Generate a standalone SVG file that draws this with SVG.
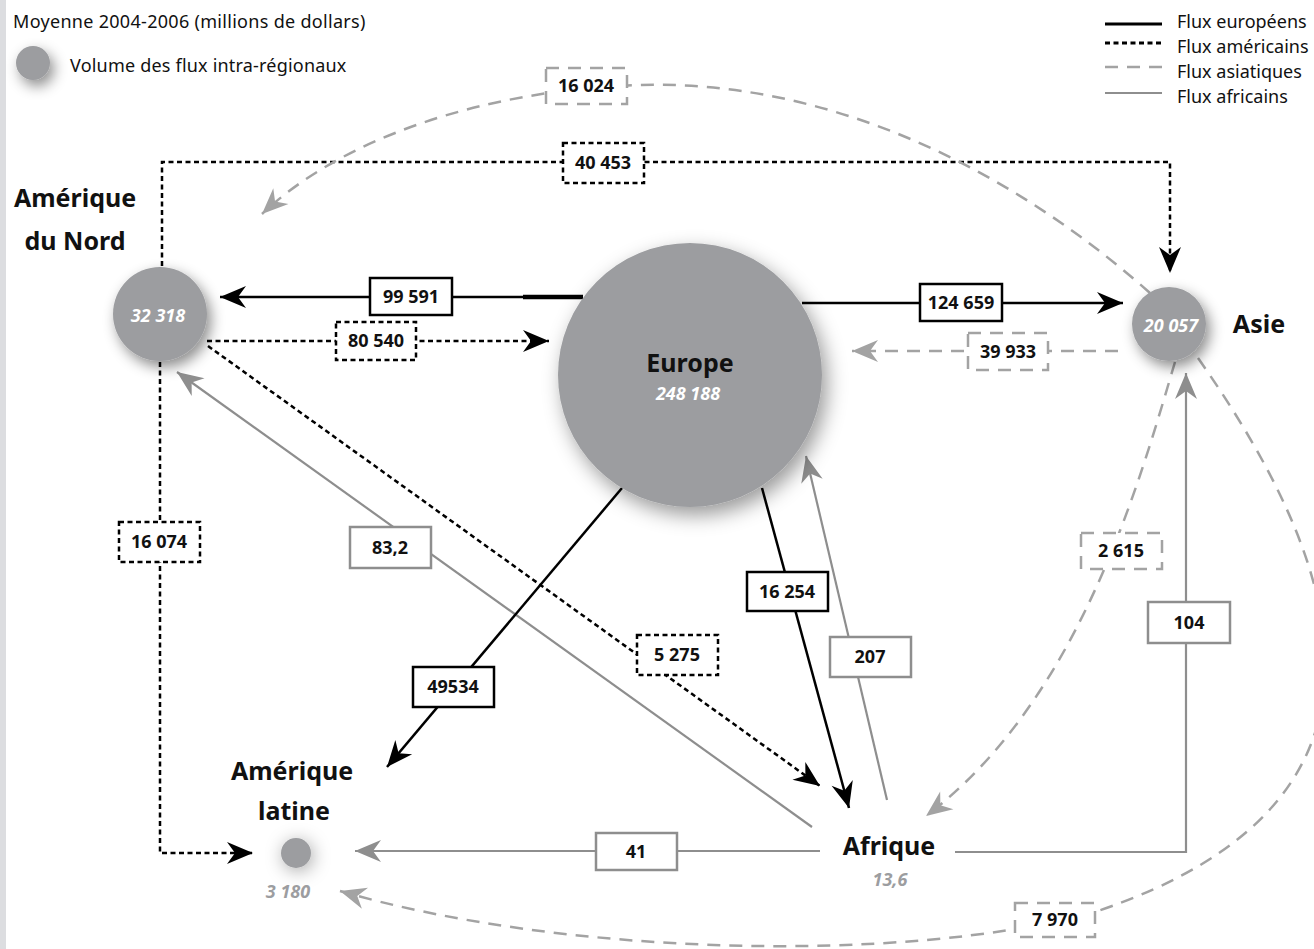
<svg xmlns="http://www.w3.org/2000/svg" width="1314" height="949" viewBox="0 0 1314 949">
<style>
.t{font-family:"Noto Sans","Open Sans",sans-serif}
.reg{font-family:"Noto Sans","Open Sans",sans-serif;font-weight:bold;font-size:25px;fill:#111;text-anchor:middle}
.val{font-family:"Noto Sans","Open Sans",sans-serif;font-weight:bold;font-style:italic;font-size:18px;fill:#fff;text-anchor:middle}
.valg{font-family:"Noto Sans","Open Sans",sans-serif;font-weight:bold;font-style:italic;font-size:18px;fill:#9c9da0;text-anchor:middle}
.lbl{font-family:"Noto Sans","Open Sans",sans-serif;font-weight:bold;font-size:18px;fill:#111;text-anchor:middle}
.leg{font-family:"Noto Sans","Open Sans",sans-serif;font-size:18px;fill:#111}
.eu{stroke:#000;stroke-width:2.5;fill:none}
.am{stroke:#000;stroke-width:2.5;fill:none;stroke-dasharray:5 3.5}
.as{stroke:#a3a3a3;stroke-width:2.5;fill:none;stroke-dasharray:13 9}
.af{stroke:#8e8e8e;stroke-width:2.2;fill:none}
.bEu{fill:#fff;stroke:#000;stroke-width:2.5}
.bAm{fill:#fff;stroke:#000;stroke-width:2.5;stroke-dasharray:5 3.5}
.bAs{fill:#fff;stroke:#a3a3a3;stroke-width:2.5;stroke-dasharray:13 9}
.bAf{fill:#fff;stroke:#8e8e8e;stroke-width:2.5}
.node{fill:#9c9da0}
</style>
<defs>
<marker id="aB" viewBox="-27 -12 28 24" refX="0" refY="0" markerWidth="28" markerHeight="24" markerUnits="userSpaceOnUse" orient="auto">
<path d="M0,0 L-26,-11 L-18,0 L-26,11 Z" fill="#000"/>
</marker>
<marker id="aG" viewBox="-27 -12 28 24" refX="0" refY="0" markerWidth="28" markerHeight="24" markerUnits="userSpaceOnUse" orient="auto">
<path d="M0,0 L-26,-11 L-18,0 L-26,11 Z" fill="#8e8e8e"/>
</marker>
<marker id="aA" viewBox="-27 -12 28 24" refX="0" refY="0" markerWidth="28" markerHeight="24" markerUnits="userSpaceOnUse" orient="auto">
<path d="M0,0 L-26,-11 L-18,0 L-26,11 Z" fill="#a3a3a3"/>
</marker>
<filter id="sh" x="-60%" y="-60%" width="220%" height="220%">
<feGaussianBlur in="SourceAlpha" stdDeviation="7"/>
<feOffset dx="4" dy="6" result="b"/>
<feFlood flood-color="#000" flood-opacity="0.45"/>
<feComposite in2="b" operator="in"/>
<feMerge><feMergeNode/><feMergeNode in="SourceGraphic"/></feMerge>
</filter>
<filter id="shL" x="-40%" y="-40%" width="180%" height="180%">
<feGaussianBlur in="SourceAlpha" stdDeviation="10"/>
<feOffset dx="5" dy="8" result="b"/>
<feFlood flood-color="#000" flood-opacity="0.4"/>
<feComposite in2="b" operator="in"/>
<feMerge><feMergeNode/><feMergeNode in="SourceGraphic"/></feMerge>
</filter>
<filter id="halo" x="-200%" y="-200%" width="500%" height="500%">
<feGaussianBlur in="SourceAlpha" stdDeviation="9"/>
<feOffset dx="2" dy="3" result="b"/>
<feFlood flood-color="#000" flood-opacity="0.35"/>
<feComposite in2="b" operator="in"/>
<feMerge><feMergeNode/><feMergeNode in="SourceGraphic"/></feMerge>
</filter>
</defs>
<rect x="0" y="0" width="6" height="949" fill="#dcdde0"/>
<g id="legend">
<text class="leg" x="13" y="28" font-size="19" letter-spacing="0.3">Moyenne 2004-2006 (millions de dollars)</text>
<circle cx="33" cy="63" r="17" class="node" filter="url(#sh)"/>
<text class="leg" x="70" y="72" letter-spacing="0.2">Volume des flux intra-régionaux</text>
<line x1="1105" y1="24" x2="1162" y2="24" stroke="#000" stroke-width="3"/>
<line x1="1105" y1="43" x2="1162" y2="43" stroke="#000" stroke-width="3" stroke-dasharray="5 3.5"/>
<line x1="1105" y1="67" x2="1162" y2="67" stroke="#a3a3a3" stroke-width="2.5" stroke-dasharray="13 9"/>
<line x1="1105" y1="93" x2="1162" y2="93" stroke="#8e8e8e" stroke-width="2"/>
<text class="leg" x="1177" y="28">Flux européens</text>
<text class="leg" x="1177" y="53">Flux américains</text>
<text class="leg" x="1177" y="78">Flux asiatiques</text>
<text class="leg" x="1177" y="103">Flux africains</text>
</g>
<g id="connectors">
<line x1="583" y1="297" x2="220" y2="297" class="eu" marker-end="url(#aB)"/>
<line x1="523" y1="297" x2="583" y2="297" stroke="#000" stroke-width="4.5"/>
<line x1="802" y1="303" x2="1123" y2="303" class="eu" marker-end="url(#aB)"/>
<line x1="207" y1="341" x2="549" y2="341" class="am" marker-end="url(#aB)"/>
<line x1="1118" y1="351" x2="852" y2="351" class="as" marker-end="url(#aA)"/>
<polyline points="162,266 162,162 1170,162 1170,273" class="am" marker-end="url(#aB)"/>
<path d="M1150,293 C1000,160 820,80 640,85 C480,90 340,140 262,214" class="as" marker-end="url(#aA)"/>
<polyline points="160,362 160,853 253,853" class="am" marker-end="url(#aB)"/>
<line x1="208" y1="346" x2="820" y2="786" class="am" marker-end="url(#aB)"/>
<line x1="812" y1="827" x2="177" y2="372" class="af" marker-end="url(#aG)"/>
<line x1="622" y1="488" x2="387" y2="767" class="eu" marker-end="url(#aB)"/>
<line x1="762" y1="488" x2="849" y2="808" class="eu" marker-end="url(#aB)"/>
<line x1="887" y1="800" x2="806" y2="456" class="af" marker-end="url(#aG)"/>
<line x1="820" y1="851" x2="355" y2="851" class="af" marker-end="url(#aG)"/>
<polyline points="955,852 1186,852 1186,373" class="af" marker-end="url(#aG)"/>
<path d="M1175,362 C1140,480 1080,700 926,816" class="as" marker-end="url(#aA)"/>
<path d="M1198,358 C1340,560 1430,800 1095,912 C900,965 560,955 340,891" class="as" marker-end="url(#aA)"/>
<rect class="bEu" x="370" y="278" width="82" height="37"/><text class="lbl" x="411" y="303">99 591</text>
<rect class="bEu" x="920" y="284" width="82" height="37"/><text class="lbl" x="961" y="309">124 659</text>
<rect class="bAm" x="336" y="322" width="80" height="38"/><text class="lbl" x="376" y="347">80 540</text>
<rect class="bAs" x="968" y="333" width="80" height="37"/><text class="lbl" x="1008" y="358">39 933</text>
<rect class="bAm" x="563" y="143" width="81" height="40"/><text class="lbl" x="603" y="169">40 453</text>
<rect class="bAs" x="546" y="68" width="81" height="36"/><text class="lbl" x="586" y="92">16 024</text>
<rect class="bAm" x="119" y="522" width="81" height="40"/><text class="lbl" x="159" y="548">16 074</text>
<rect class="bAm" x="637" y="635" width="81" height="40"/><text class="lbl" x="677" y="661">5 275</text>
<rect class="bAf" x="350" y="527" width="81" height="41"/><text class="lbl" x="390" y="554">83,2</text>
<rect class="bEu" x="413" y="667" width="81" height="40"/><text class="lbl" x="453" y="693">49534</text>
<rect class="bEu" x="747" y="572" width="81" height="39"/><text class="lbl" x="787" y="598">16 254</text>
<rect class="bAf" x="830" y="637" width="81" height="40"/><text class="lbl" x="870" y="663">207</text>
<rect class="bAf" x="596" y="833" width="81" height="37"/><text class="lbl" x="636" y="858">41</text>
<rect class="bAf" x="1148" y="602" width="82" height="41"/><text class="lbl" x="1189" y="629">104</text>
<rect class="bAs" x="1081" y="533" width="81" height="36"/><text class="lbl" x="1121" y="557">2 615</text>
<rect class="bAs" x="1015" y="903" width="80" height="34"/><text class="lbl" x="1055" y="926">7 970</text>
</g>
<g id="amerique-du-nord">
<circle cx="160" cy="314" r="47" class="node" filter="url(#sh)"/>
<text class="val" x="158" y="322">32 318</text>
<text class="reg" x="75" y="207">Amérique</text>
<text class="reg" x="75" y="250">du Nord</text>
</g>
<g id="europe">
<circle cx="690" cy="375" r="132" class="node" filter="url(#shL)"/>
<text class="reg" x="690" y="372">Europe</text>
<text class="val" x="688" y="400">248 188</text>
</g>
<g id="asie">
<circle cx="1169" cy="324" r="37" class="node" filter="url(#sh)"/>
<text class="val" x="1171" y="332">20 057</text>
<text class="reg" x="1259" y="333" text-anchor="start">Asie</text>
</g>
<g id="amerique-latine">
<circle cx="296" cy="853" r="15" class="node" filter="url(#halo)"/>
<text class="reg" x="292" y="780">Amérique</text>
<text class="reg" x="294" y="820">latine</text>
<text class="valg" x="288" y="898">3 180</text>
</g>
<g id="afrique">
<text class="reg" x="889" y="855">Afrique</text>
<text class="valg" x="890" y="886">13,6</text>
</g>
</svg>
